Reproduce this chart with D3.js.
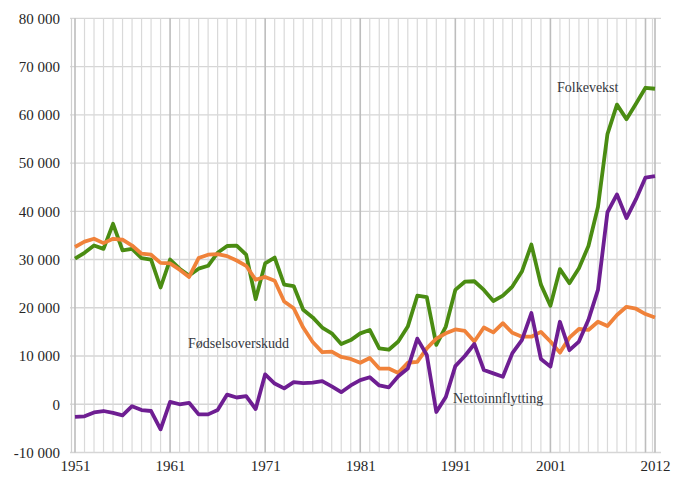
<!DOCTYPE html>
<html>
<head>
<meta charset="utf-8">
<script src="https://cdn.jsdelivr.net/npm/d3@7"></script>
<style>
  body { margin: 0; background: #fff; }
</style>
</head>
<body>
<div id="chart"></div>
<script>
// data, one value per year
var years = d3.range(1951, 2013);

var folkevekst = [
  30200, 31400, 32900, 32200, 37400, 31900, 32200, 30300, 30000, 24200,
  30000, 28100, 26700, 28100, 28700, 31400, 32800, 32900, 31000, 21800,
  29200, 30400, 24800, 24500, 19600, 18000, 15900, 14700, 12500, 13300,
  14700, 15400, 11600, 11300, 13000, 16100, 22500, 22200, 12300, 16100,
  23700, 25400, 25500, 23700, 21400, 22500, 24400, 27500, 33100, 24800,
  20400, 28000, 25100, 28200, 32800, 40900, 56000, 62100, 59100, 62300,
  65600, 65400
];

var fodselsoverskudd = [
  32600, 33700, 34300, 33400, 34300, 34100, 32900, 31200, 31000, 29300,
  29200, 27900, 26400, 30300, 31000, 31100, 30700, 29800, 28700, 25800,
  26400, 25600, 21300, 19900, 15900, 12900, 10800, 10900, 9800, 9400,
  8600, 9600, 7400, 7400, 6500, 8600, 8800, 11600, 13600, 14700,
  15500, 15200, 13000, 15900, 14900, 16800, 14800, 14000, 14000, 15000,
  13000, 10700, 13800, 15600, 15400, 17100, 16200, 18500, 20200, 19800,
  18700, 18000
];

var nettoinnflytting = [
  -2600, -2500, -1700, -1400, -1800, -2300, -400, -1200, -1400, -5200,
  500, 0, 300, -2100, -2100, -1200, 2000, 1400, 1700, -1000,
  6200, 4300, 3300, 4600, 4400, 4500, 4800, 3700, 2500, 3900,
  5000, 5600, 3900, 3500, 5800, 7400, 13600, 10200, -1600, 1500,
  7900, 10000, 12500, 7100, 6400, 5700, 10600, 13300, 18900, 9400,
  7800, 17100, 11200, 13000, 17500, 23700, 39800, 43500, 38600, 42500,
  47000, 47300
];

var yTicks = d3.range(-10000, 80001, 10000);
var xTickYears = [1951, 1961, 1971, 1981, 1991, 2001, 2012];

var series = [
  { name: 'Folkevekst', values: folkevekst, color: '#4a8c12', lx: 557, ly: 92 },
  { name: 'Fødselsoverskudd', values: fodselsoverskudd, color: '#f0823a', lx: 188, ly: 348 },
  { name: 'Nettoinnflytting', values: nettoinnflytting, color: '#6e1e92', lx: 453, ly: 403 }
];

var width = 673;
var height = 483;
var serif = '"Liberation Serif", "Times New Roman", serif';

var x = d3.scaleLinear().domain([1951, 2012]).range([75, 655]);
var y = d3.scaleLinear().domain([-10000, 80000]).range([452.5, 18.3]);

var locale = d3.formatLocale({ decimal: ',', thousands: ' ', grouping: [3], currency: ['', ''], minus: '-' });
var fmt = locale.format(',');

var svg = d3.select('#chart')
  .append('svg')
  .attr('width', width)
  .attr('height', height)
  .attr('font-family', serif);

// horizontal grid
svg.append('g')
  .selectAll('line')
  .data(yTicks)
  .enter()
  .append('line')
  .attr('x1', 70)
  .attr('x2', 661)
  .attr('y1', function(d) { return y(d); })
  .attr('y2', function(d) { return y(d); })
  .attr('stroke', '#d6d6d6')
  .attr('stroke-width', 1.3);

// vertical grid, darker every ten years
svg.append('g')
  .selectAll('line')
  .data(years)
  .enter()
  .append('line')
  .attr('x1', function(d) { return x(d); })
  .attr('x2', function(d) { return x(d); })
  .attr('y1', y(80000))
  .attr('y2', y(-10000))
  .attr('stroke', function(d) { return (d - 1951) % 10 === 0 || d === 2012 ? '#bdbdbd' : '#d9d9d9'; })
  .attr('stroke-width', function(d) { return (d - 1951) % 10 === 0 || d === 2012 ? 1.6 : 1.2; });

// frame lines at the edges
svg.append('line')
  .attr('x1', 71.5).attr('x2', 71.5)
  .attr('y1', y(80000)).attr('y2', y(-10000))
  .attr('stroke', '#d0d0d0').attr('stroke-width', 1.2);
svg.append('line')
  .attr('x1', 652.5).attr('x2', 652.5)
  .attr('y1', y(80000)).attr('y2', y(-10000))
  .attr('stroke', '#d9d9d9').attr('stroke-width', 1.2);

// axes
var yAxis = svg.append('g')
  .attr('transform', 'translate(70,0)')
  .call(d3.axisLeft(y).tickValues(yTicks).tickSize(0).tickPadding(10).tickFormat(fmt));
yAxis.select('.domain').remove();
yAxis.selectAll('text')
  .style('font-family', serif)
  .style('font-size', '15px')
  .attr('fill', '#262626');

var xAxis = svg.append('g')
  .attr('transform', 'translate(0,' + y(-10000) + ')')
  .call(d3.axisBottom(x).tickValues(xTickYears).tickSize(0).tickPadding(8).tickFormat(d3.format('d')));
xAxis.select('.domain').remove();
xAxis.selectAll('text')
  .style('font-family', serif)
  .style('font-size', '15px')
  .attr('fill', '#262626');

// lines
var line = d3.line()
  .x(function(d, i) { return x(years[i]); })
  .y(function(d) { return y(d); });

svg.append('g')
  .selectAll('path')
  .data(series)
  .enter()
  .append('path')
  .attr('d', function(d) { return line(d.values); })
  .attr('fill', 'none')
  .attr('stroke', function(d) { return d.color; })
  .attr('stroke-width', 3.8)
  .attr('stroke-linejoin', 'round');

// series labels
svg.append('g')
  .selectAll('text')
  .data(series)
  .enter()
  .append('text')
  .attr('x', function(d) { return d.lx; })
  .attr('y', function(d) { return d.ly; })
  .attr('font-size', 14)
  .attr('fill', '#333740')
  .text(function(d) { return d.name; });
</script>
</body>
</html>
